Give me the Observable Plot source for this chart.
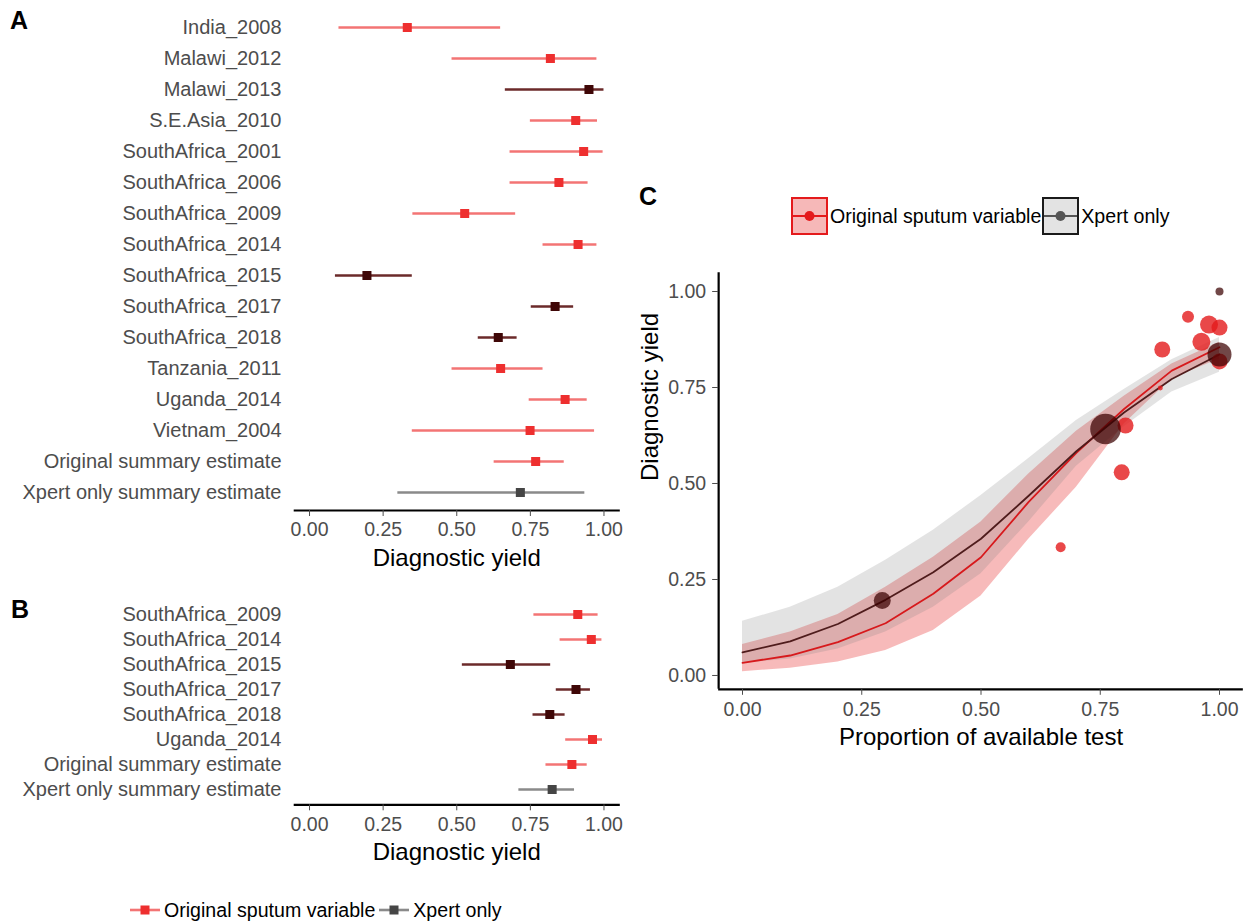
<!DOCTYPE html>
<html><head><meta charset="utf-8">
<script src="https://cdn.jsdelivr.net/npm/d3@7"></script>
<script src="https://cdn.jsdelivr.net/npm/@observablehq/plot@0.6"></script>
<style>
body{margin:0;background:#fff;font-family:"Liberation Sans",Arial,sans-serif;}
#root{position:relative;width:1250px;height:924px;overflow:hidden;background:#fff;}
.plot{position:absolute;}
.letter{position:absolute;font-weight:bold;font-size:25px;line-height:25px;color:#000;}
.leg{position:absolute;display:flex;align-items:center;font-size:19.6px;color:#000;white-space:nowrap;height:40px;}
.leg svg{display:block;}
.keybox{box-sizing:border-box;width:37px;height:38px;border:2px solid;position:relative;}
</style></head><body><div id="root"></div>
<script>
// ---------- Panel A data ----------
const studiesA = ["India_2008","Malawi_2012","Malawi_2013","S.E.Asia_2010","SouthAfrica_2001","SouthAfrica_2006","SouthAfrica_2009","SouthAfrica_2014","SouthAfrica_2015","SouthAfrica_2017","SouthAfrica_2018","Tanzania_2011","Uganda_2014","Vietnam_2004","Original summary estimate","Xpert only summary estimate"];
const groupA = ["orig","orig","xpert","orig","orig","orig","orig","orig","xpert","xpert","xpert","orig","orig","orig","orig","sumXpert"];
const estA = [0.332,0.818,0.949,0.904,0.931,0.847,0.527,0.912,0.195,0.834,0.641,0.649,0.868,0.749,0.768,0.716];
const loA  = [0.100,0.484,0.665,0.750,0.681,0.681,0.351,0.793,0.088,0.753,0.573,0.484,0.746,0.349,0.627,0.300];
const hiA  = [0.649,0.976,1.000,0.978,0.997,0.946,0.700,0.976,0.349,0.897,0.705,0.793,0.943,0.968,0.865,0.935];

// ---------- Panel B data ----------
const studiesB = ["SouthAfrica_2009","SouthAfrica_2014","SouthAfrica_2015","SouthAfrica_2017","SouthAfrica_2018","Uganda_2014","Original summary estimate","Xpert only summary estimate"];
const groupB = ["orig","orig","xpert","xpert","xpert","orig","orig","sumXpert"];
const estB = [0.911,0.957,0.682,0.905,0.816,0.961,0.891,0.824];
const loB  = [0.762,0.851,0.519,0.838,0.759,0.870,0.803,0.711];
const hiB  = [0.980,0.993,0.819,0.954,0.868,0.995,0.943,0.900];

const xTicks = [0, 0.25, 0.5, 0.75, 1];

// ---------- Panel C data ----------
const propC = [0,0.1,0.2,0.3,0.4,0.5,0.6,0.7,0.8,0.9,1.0];
const origFitC = [0.033,0.052,0.087,0.136,0.213,0.308,0.452,0.580,0.694,0.794,0.855];
const origLoC  = [0.010,0.019,0.035,0.065,0.117,0.207,0.355,0.490,0.655,0.773,0.824];
const origHiC  = [0.081,0.113,0.159,0.230,0.308,0.400,0.525,0.636,0.727,0.811,0.868];
const xpertFitC = [0.060,0.089,0.134,0.197,0.269,0.356,0.468,0.584,0.685,0.772,0.836];
const xpertLoC  = [0.032,0.043,0.069,0.113,0.178,0.265,0.400,0.545,0.648,0.738,0.790];
const xpertHiC  = [0.141,0.178,0.230,0.300,0.378,0.469,0.565,0.664,0.745,0.822,0.880];

// study-level points (proportion, yield, sample size)
const propOrigPts  = [0.667,0.795,0.803,0.880,0.934,0.978,1.000,0.962,0.876,1.000];
const yieldOrigPts = [0.334,0.529,0.651,0.849,0.934,0.914,0.906,0.869,0.749,0.818];
const nOrigPts     = [250,640,640,640,360,810,640,810,62,640];
const propXpertPts  = [0.293,0.761,1.000,1.000];
const yieldXpertPts = [0.195,0.642,0.836,1.000];
const nXpertPts     = [722,2340,1440,160];

// ---------- styles ----------
const FONT = "Liberation Sans, Arial, sans-serif";
const STY = {
  orig:     {line: "#f37474", mark: "#ee2f2f"},
  xpert:    {line: "#6b2a2a", mark: "#3f0707"},
  sumXpert: {line: "#8a8a8a", mark: "#454545"}
};

const root = document.getElementById("root");
function place(el, left, top) {
  el.classList.add("plot");
  el.style.left = left + "px";
  el.style.top = top + "px";
  root.appendChild(el);
}

function forest(studies, groups, est, lo, hi, yRange, height, marginBottom, titleDy) {
  const rows = studies.map((s, i) => ({study: s, grp: groups[i], est: est[i], lo: lo[i], hi: hi[i]}));
  const marks = [];
  for (const g of Object.keys(STY)) {
    const sub = rows.filter(r => r.grp === g);
    marks.push(Plot.ruleY(sub, {y: "study", x1: "lo", x2: "hi", stroke: STY[g].line, strokeWidth: 2.6}));
  }
  for (const g of Object.keys(STY)) {
    const sub = rows.filter(r => r.grp === g);
    marks.push(Plot.dot(sub, {x: "est", y: "study", symbol: "square", r: 5.1, fill: STY[g].mark, stroke: null}));
  }
  marks.push(Plot.frame({anchor: "bottom", stroke: "#000", strokeWidth: 2.2}));
  marks.push(Plot.axisY({tickSize: 0, tickPadding: 13.3, fontSize: 20, color: "#4d4d4d", label: null}));
  marks.push(Plot.axisX({ticks: xTicks, tickFormat: d3.format(".2f"), tickSize: 6, tickPadding: 6, fontSize: 19.5, color: "#4d4d4d", label: null}));
  marks.push(Plot.text(["Diagnostic yield"], {frameAnchor: "bottom", lineAnchor: "middle", dy: titleDy, fontSize: 24, fill: "#000"}));
  return Plot.plot({
    width: 620, height,
    marginLeft: 294.3, marginRight: 1.8, marginTop: 10, marginBottom,
    x: {domain: [-0.05, 1.05]},
    y: {type: "point", domain: studies, range: yRange, padding: 0},
    style: {fontFamily: FONT, background: "transparent", overflow: "visible"},
    marks
  });
}

// Panel A
place(forest(studiesA, groupA, estA, loA, hiA, [27, 492.5], 575, 65, 48), 0, 0);
// Panel B
place(forest(studiesB, groupB, estB, loB, hiB, [31.7, 210.7], 290, 65.7, 47.4), 0, 580);

// Panel C
const plotC = Plot.plot({
  width: 620, height: 530,
  marginLeft: 88.15, marginRight: 7.15, marginTop: 22.2, marginBottom: 91.2,
  x: {domain: [-0.05, 1.05]},
  y: {domain: [-0.036, 1.049]},
  r: {domain: [0, 2340], range: [0, 15.3]},
  style: {fontFamily: FONT, background: "transparent", overflow: "visible"},
  marks: [
    Plot.areaY(propC, {x: propC, y1: origLoC, y2: origHiC, fill: "#e41a1c", fillOpacity: 0.3}),
    Plot.areaY(propC, {x: propC, y1: xpertLoC, y2: xpertHiC, fill: "#808080", fillOpacity: 0.22}),
    Plot.line(propC, {x: propC, y: origFitC, stroke: "#d7191c", strokeWidth: 1.8}),
    Plot.line(propC, {x: propC, y: xpertFitC, stroke: "#4f1c1c", strokeWidth: 1.8}),
    Plot.dot(propOrigPts, {x: propOrigPts, y: yieldOrigPts, r: nOrigPts, fill: "#e41a1c", fillOpacity: 0.8, stroke: null}),
    Plot.dot(propXpertPts, {x: propXpertPts, y: yieldXpertPts, r: nXpertPts, fill: "#3a0000", fillOpacity: 0.72, stroke: null}),
    Plot.ruleX([-0.05], {stroke: "#000", strokeWidth: 2.2}),
    Plot.ruleY([-0.036], {stroke: "#000", strokeWidth: 2.2}),
    Plot.axisX({ticks: xTicks, tickFormat: d3.format(".2f"), tickSize: 6, tickPadding: 7, fontSize: 19.5, color: "#4d4d4d", label: null}),
    Plot.axisY({ticks: xTicks, tickFormat: d3.format(".2f"), tickSize: 6, tickPadding: 6.5, fontSize: 19.5, color: "#4d4d4d", label: null}),
    Plot.text(["Proportion of available test"], {frameAnchor: "bottom", lineAnchor: "middle", dy: 48, fontSize: 24, fill: "#000"}),
    Plot.text(["Diagnostic yield"], {frameAnchor: "left", lineAnchor: "middle", dx: -68, rotate: -90, fontSize: 24, fill: "#000"})
  ]
});
place(plotC, 630, 250);

// Panel letters
for (const [t, l, tp] of [["A", 10, 7.5], ["B", 11, 596.5], ["C", 639, 184]]) {
  const d = document.createElement("div");
  d.className = "letter";
  d.style.left = l + "px"; d.style.top = tp + "px";
  d.textContent = t;
  root.appendChild(d);
}

// Bottom legend (panels A, B)
const svgNS = "http://www.w3.org/2000/svg";
function glyph(lineColor, markColor) {
  const s = document.createElementNS(svgNS, "svg");
  s.setAttribute("width", 30); s.setAttribute("height", 20);
  s.innerHTML = `<line x1="0" x2="30" y1="10" y2="10" stroke="${lineColor}" stroke-width="2.6"/>` +
                `<rect x="10.5" y="5.5" width="9" height="9" fill="${markColor}"/>`;
  return s;
}
const legB = document.createElement("div");
legB.className = "leg";
legB.style.left = "130px"; legB.style.top = "890px";
const names = ["Original sputum variable", "Xpert only"];
const g1 = glyph(STY.orig.line, STY.orig.mark);
const t1 = document.createElement("span"); t1.textContent = names[0]; t1.style.marginLeft = "4px"; t1.style.marginRight = "4px";
const g2 = glyph(STY.sumXpert.line, STY.sumXpert.mark);
const t2 = document.createElement("span"); t2.textContent = names[1]; t2.style.marginLeft = "4px";
legB.append(g1, t1, g2, t2);
root.appendChild(legB);

// Panel C legend
function keyBox(fill, border, lineColor) {
  const b = document.createElement("div");
  b.className = "keybox";
  b.style.background = fill; b.style.borderColor = border;
  const s = document.createElementNS(svgNS, "svg");
  s.setAttribute("width", 33); s.setAttribute("height", 34);
  s.innerHTML = `<line x1="0" x2="33" y1="17" y2="17" stroke="${lineColor}" stroke-width="1.8"/>` +
                `<circle cx="16.5" cy="17" r="5" fill="${lineColor}"/>`;
  b.appendChild(s);
  return b;
}
const legC = document.createElement("div");
legC.className = "leg";
legC.style.left = "791px"; legC.style.top = "196px";
const k1 = keyBox("#f6b8b8", "#e41a1c", "#e41a1c");
const c1 = document.createElement("span"); c1.textContent = names[0]; c1.style.marginLeft = "2px"; c1.style.marginRight = "1px";
const k2 = keyBox("#e3e3e3", "#1a1a1a", "#555555");
const c2 = document.createElement("span"); c2.textContent = names[1]; c2.style.marginLeft = "2px";
legC.append(k1, c1, k2, c2);
root.appendChild(legC);
</script></body></html>
